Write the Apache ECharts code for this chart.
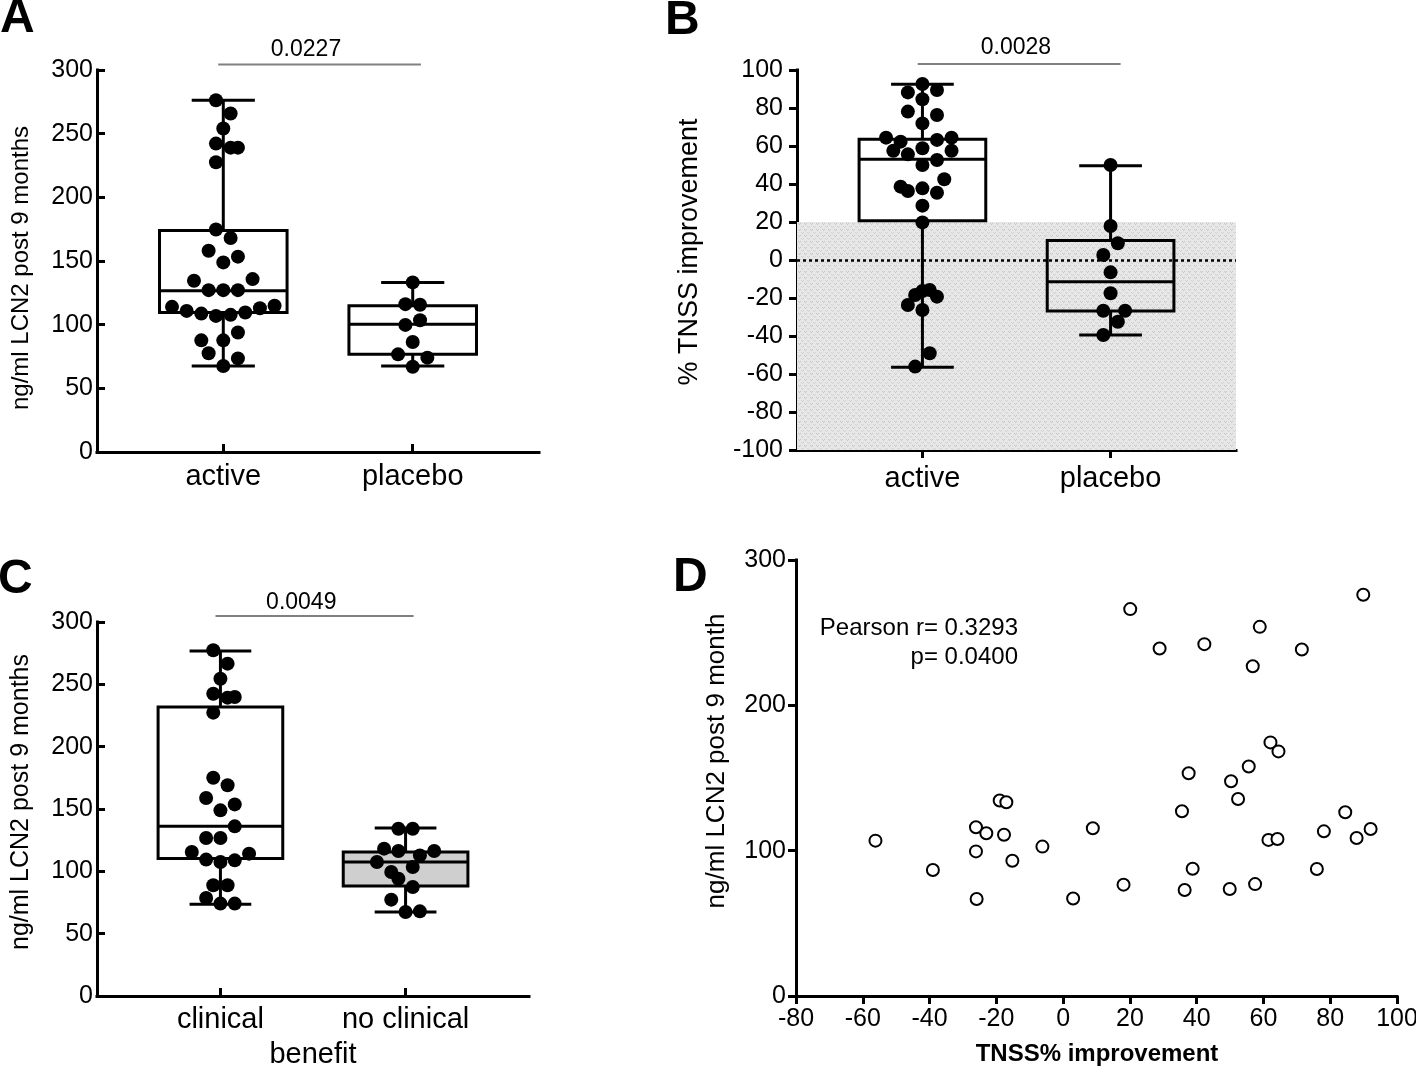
<!DOCTYPE html>
<html><head><meta charset="utf-8">
<script src="https://cdn.jsdelivr.net/npm/echarts@6/dist/echarts.min.js"></script>
<style>html,body{margin:0;padding:0;background:#fff}#c{width:1416px;height:1068px}</style>
</head><body><div id="c"></div>
<script>
// ---------------- data ----------------
const groupsAB = ['active', 'placebo'];
const groupsC = ['clinical', 'no clinical'];
const catPos = [2, 5];            // x-position of the two groups on the 0..7 group axis

// Panel A: ng/ml LCN2 post 9 months
const aActive = [276.3,265.8,254.0,242.2,239.0,239.0,227.5,174.7,168.1,158.1,153.4,148.9,134.5,135.8,127.1,127.1,127.1,114.0,110.8,108.7,106.9,107.7,109.5,112.9,114.8,87.7,87.7,93.8,77.5,73.5,67.5];
const aActiveSlot = [-1,1,0,-1,1,2,-1,-1,1,-2,2,0,-4,4,-2,0,2,-7,-5,-3,-1,1,3,5,7,-3,0,2,-2,2,0];
const aPlacebo = [133.2,116.1,115.6,103.5,99.8,86.4,76.7,74.1,67.0];
const aPlaceboSlot = [0,-1,1,1,-1,0,-2,2,0];
// [min, Q1, median, Q3, max]
const boxA = [[67.5,109.5,126.6,173.9,276.3],[67.5,76.7,100.3,114.8,133.2]];
const pA = '0.0227';

// Panel B: % TNSS improvement
const bActive = [92.6,88.2,89.5,84.6,78.1,76.3,71.9,64.4,64.4,62.3,63.2,57.5,55.6,58.8,57.5,52.6,50.0,42.5,38.6,36.3,37.7,35.4,28.6,19.8,-16.3,-15.8,-18.4,-19.3,-23.7,-26.3,-49.1,-56.1];
const bActiveSlot = [0,-2,2,0,-2,2,0,-5,4,-3,2,-4,-2,0,4,2,0,3,-3,-2,0,2,0,0,0,1,-1,2,-2,0,1,-1];
const bPlacebo = [50.0,17.9,8.8,2.6,-6.5,-17.5,-26.7,-26.7,-32.5,-39.5];
const bPlaceboSlot = [0,0,1,-1,0,0,-1,2,1,-1];
const boxB = [[-56.5,20.7,53.0,63.5,92.5],[-39.5,-26.8,-11.4,10.2,49.6]];
const bThreshold = [-100, 20];   // shaded "no benefit" band
const pB = '0.0028';

// Panel C: ng/ml LCN2 by clinical benefit
const cClinical = [277.3,266.6,254.5,242.5,239.3,239.8,227.3,175.1,169.0,158.8,153.7,148.9,136.1,126.7,126.7,115.5,114.2,109.4,107.5,108.8,88.8,88.8,78.6,74.1,74.1];
const cClinicalSlot = [-1,1,0,-1,1,2,-1,-1,1,-2,2,0,2,-2,0,-4,4,-2,0,2,-1,1,-2,0,2];
const cNoClinical = [134.2,134.2,118.2,116.3,112.8,116.3,107.5,103.5,99.5,94.1,87.4,77.3,67.4,67.9];
const cNoClinicalSlot = [-1,1,-3,-1,2,4,-4,1,-2,-1,1,-2,0,2];
const boxC = [[73.5,110.2,136.1,231.8,276.7],[67.4,88.2,107.5,115.5,134.8]];
const pC = '0.0049';

// Panel D: correlation
const dX = [89.9,20.1,58.9,28.9,42.3,71.5,56.8,62.1,64.5,55.6,37.6,50.3,52.4,-19.0,-17.0,35.6,84.5,-56.2,-26.1,-23.0,-17.7,8.9,78.1,92.1,87.9,61.5,64.2,-26.1,-6.2,-15.2,-39.0,38.8,76.0,18.1,57.5,36.4,49.9,-25.9,3.0];
const dY = [276.1,266.2,254.0,239.1,242.1,238.4,226.9,174.5,168.3,157.9,153.3,147.8,135.6,134.5,133.3,127.1,126.4,106.9,116.1,112.0,111.0,115.4,113.3,114.9,108.7,107.4,108.0,99.5,102.8,93.1,86.7,87.6,87.4,76.6,77.0,72.9,73.6,66.7,67.1];
const pearsonR = '0.3293';
const pearsonP = '0.0400';

// ---------------- drawing ----------------
const FONT = "'Liberation Sans', Arial, Helvetica, sans-serif";
const SLOT = 0.116, BOX_HALF = 1.01, CAP_HALF = 0.5;
const AX = {color: '#000', width: 3};
const TICK_FS = 25;

function dots(vals, slots, g) { return vals.map((v, i) => [catPos[g] + slots[i] * SLOT, v]); }
function boxData(stats) { return stats.map((s, i) => [catPos[i]].concat(s)); }

function shadePattern() {
  const c = document.createElement('canvas'); c.width = 6; c.height = 6;
  const g = c.getContext('2d');
  g.fillStyle = '#e7e7e7'; g.fillRect(0, 0, 6, 6);
  g.fillStyle = '#c6c6c6';
  g.fillRect(0, 1, 1, 1); g.fillRect(2, 1, 1, 1); g.fillRect(1, 2, 1, 1);
  g.fillStyle = '#d2d2d2';
  g.fillRect(3, 4, 1, 1); g.fillRect(5, 4, 1, 1); g.fillRect(4, 5, 1, 1);
  return c;
}

function boxRender(fills) {
  return function (params, api) {
    const x = api.value(0);
    const mn = api.value(1), q1 = api.value(2), md = api.value(3), q3 = api.value(4), mx = api.value(5);
    const P = (dx, y) => api.coord([x + dx, y]);
    const ln = (a, b) => ({type: 'line', shape: {x1: a[0], y1: a[1], x2: b[0], y2: b[1]}, style: {stroke: '#000', lineWidth: 3}});
    const tl = P(-BOX_HALF, q3), br = P(BOX_HALF, q1);
    return {type: 'group', children: [
      ln(P(0, mn), P(0, q1)),
      ln(P(0, q3), P(0, mx)),
      ln(P(-CAP_HALF, mn), P(CAP_HALF, mn)),
      ln(P(-CAP_HALF, mx), P(CAP_HALF, mx)),
      {type: 'rect', shape: {x: tl[0], y: tl[1], width: br[0] - tl[0], height: br[1] - tl[1]},
       style: {fill: fills[params.dataIndex], stroke: '#000', lineWidth: 3}},
      ln(P(-BOX_HALF, md), P(BOX_HALF, md))
    ]};
  };
}

function groupXAxis(gi, labels, inside, margin) {
  return {type: 'value', gridIndex: gi, min: 0, max: 7,
    axisLine: {show: true, onZero: false, lineStyle: Object.assign({cap: 'square'}, AX)},
    axisTick: {show: true, inside: inside, length: 8, customValues: catPos, lineStyle: AX},
    axisLabel: {customValues: catPos, formatter: v => labels[catPos.indexOf(v)], fontSize: 29, color: '#000', fontFamily: FONT, margin: margin},
    splitLine: {show: false}};
}
function valAxis(gi, min, max, interval, inside, margin) {
  return {type: 'value', gridIndex: gi, min: min, max: max, interval: interval,
    axisLine: {show: true, onZero: false, lineStyle: Object.assign({cap: 'square'}, AX)},
    axisTick: {show: true, inside: inside, length: 8, lineStyle: AX},
    axisLabel: {fontSize: TICK_FS, color: '#000', fontFamily: FONT, margin: margin},
    splitLine: {show: false}};
}
function dotSeries(data, xi) {
  return {type: 'scatter', xAxisIndex: xi, yAxisIndex: xi, data: data, symbol: 'circle', symbolSize: 14,
    itemStyle: {color: '#000', opacity: 1}, z: 4, silent: true};
}
function boxSeries(stats, xi, fills) {
  return {type: 'custom', xAxisIndex: xi, yAxisIndex: xi, data: boxData(stats),
    encode: {x: 0, y: [1, 2, 3, 4, 5]}, renderItem: boxRender(fills), z: 3, silent: true};
}
function sigLine(xi, x0, x1, y) {
  return {type: 'line', xAxisIndex: xi, yAxisIndex: xi, data: [[x0, y], [x1, y]], symbol: 'none', clip: false,
    lineStyle: {color: '#808080', width: 2}, z: 3, silent: true};
}
function txt(text, x, y, size, opts) {
  return Object.assign({type: 'text', x: x, y: y, silent: true, z: 10,
    style: {text: text, font: (opts && opts.bold ? 'bold ' : '') + size + 'px ' + FONT, fill: '#000',
      textAlign: (opts && opts.align) || 'center', textVerticalAlign: 'middle'}},
    opts && opts.rot ? {rotation: Math.PI / 2} : {});
}

const chart = echarts.init(document.getElementById('c'), null, {renderer: 'canvas'});
const option = {
  animation: false,
  backgroundColor: '#fff',
  textStyle: {fontFamily: FONT},
  grid: [
    {left: 97, top: 70, width: 442, height: 382, outerBoundsMode: 'none'},
    {left: 797, top: 70, width: 439, height: 380, outerBoundsMode: 'none'},
    {left: 97, top: 622, width: 432, height: 374, outerBoundsMode: 'none'},
    {left: 796, top: 560, width: 601, height: 436, outerBoundsMode: 'none'}
  ],
  xAxis: [
    groupXAxis(0, groupsAB, true, 10),
    groupXAxis(1, groupsAB, false, 14),
    groupXAxis(2, groupsC, true, 9),
    {type: 'value', gridIndex: 3, min: -80, max: 100, interval: 20,
     axisLine: {show: true, onZero: false, lineStyle: Object.assign({cap: 'square'}, AX)},
     axisTick: {show: true, inside: false, length: 8, lineStyle: AX},
     axisLabel: {fontSize: TICK_FS, color: '#000', fontFamily: FONT, margin: 11},
     splitLine: {show: false}}
  ],
  yAxis: [
    valAxis(0, 0, 300, 50, true, 4),
    valAxis(1, -100, 100, 20, false, 14),
    valAxis(2, 0, 300, 50, true, 4),
    valAxis(3, 0, 300, 100, false, 10)
  ],
  series: [
    // B background band and zero line
    {type: 'line', xAxisIndex: 1, yAxisIndex: 1, data: [], z: -1, silent: true,
     markArea: {silent: true, itemStyle: {color: {image: shadePattern(), repeat: 'repeat'}},
       data: [[{xAxis: 0, yAxis: bThreshold[0]}, {xAxis: 7, yAxis: bThreshold[1]}]]},
     markLine: {silent: true, symbol: ['none', 'none'], label: {show: false},
       lineStyle: {color: '#000', width: 2.5, type: [3, 3]}, data: [{yAxis: 0}]}},
    boxSeries(boxA, 0, ['none', 'none']),
    dotSeries(dots(aActive, aActiveSlot, 0), 0),
    dotSeries(dots(aPlacebo, aPlaceboSlot, 1), 0),
    boxSeries(boxB, 1, ['none', 'none']),
    dotSeries(dots(bActive, bActiveSlot, 0), 1),
    dotSeries(dots(bPlacebo, bPlaceboSlot, 1), 1),
    boxSeries(boxC, 2, ['none', '#cfcfcf']),
    dotSeries(dots(cClinical, cClinicalSlot, 0), 2),
    dotSeries(dots(cNoClinical, cNoClinicalSlot, 1), 2),
    {type: 'scatter', xAxisIndex: 3, yAxisIndex: 3, data: dX.map((x, i) => [x, dY[i]]), symbol: 'circle', symbolSize: 12,
     itemStyle: {color: '#fff', borderColor: '#000', borderWidth: 2, opacity: 1}, z: 4, silent: true},
    sigLine(0, 1.92, 5.13, 304.3),
    sigLine(1, 1.925, 5.16, 103.2),
    sigLine(2, 1.92, 5.13, 304.8)
  ]
};
chart.setOption(option);

// p-value labels placed in each panel's data coordinates
function at(i, x, y) { return chart.convertToPixel({xAxisIndex: i, yAxisIndex: i}, [x, y]); }
const pa = at(0, 3.31, 316.1), pb = at(1, 3.49, 111.6), pc = at(2, 3.31, 315.8);
chart.setOption({
  graphic: [
    txt('A', 0, 19, 48, {bold: true, align: 'left'}),
    txt('B', 665, 21, 48, {bold: true, align: 'left'}),
    txt('C', -2, 580, 48, {bold: true, align: 'left'}),
    txt('D', 673, 578, 48, {bold: true, align: 'left'}),
    txt('ng/ml LCN2 post 9 months', 21, 268, 24, {rot: true}),
    txt('% TNSS improvement', 690, 252, 27, {rot: true}),
    txt('ng/ml LCN2 post 9 months', 21, 802, 25, {rot: true}),
    txt('ng/ml LCN2 post 9 month', 717, 761, 26, {rot: true}),
    txt('benefit', 313, 1055, 29),
    txt('TNSS% improvement', 1097, 1054, 24, {bold: true}),
    txt('Pearson r= ' + pearsonR, 1018, 628, 24, {align: 'right'}),
    txt('p= ' + pearsonP, 1018, 657, 24, {align: 'right'}),
    txt(pA, pa[0], pa[1], 23),
    txt(pB, pb[0], pb[1], 23),
    txt(pC, pc[0], pc[1], 23)
  ]
});
</script>
</body></html>
